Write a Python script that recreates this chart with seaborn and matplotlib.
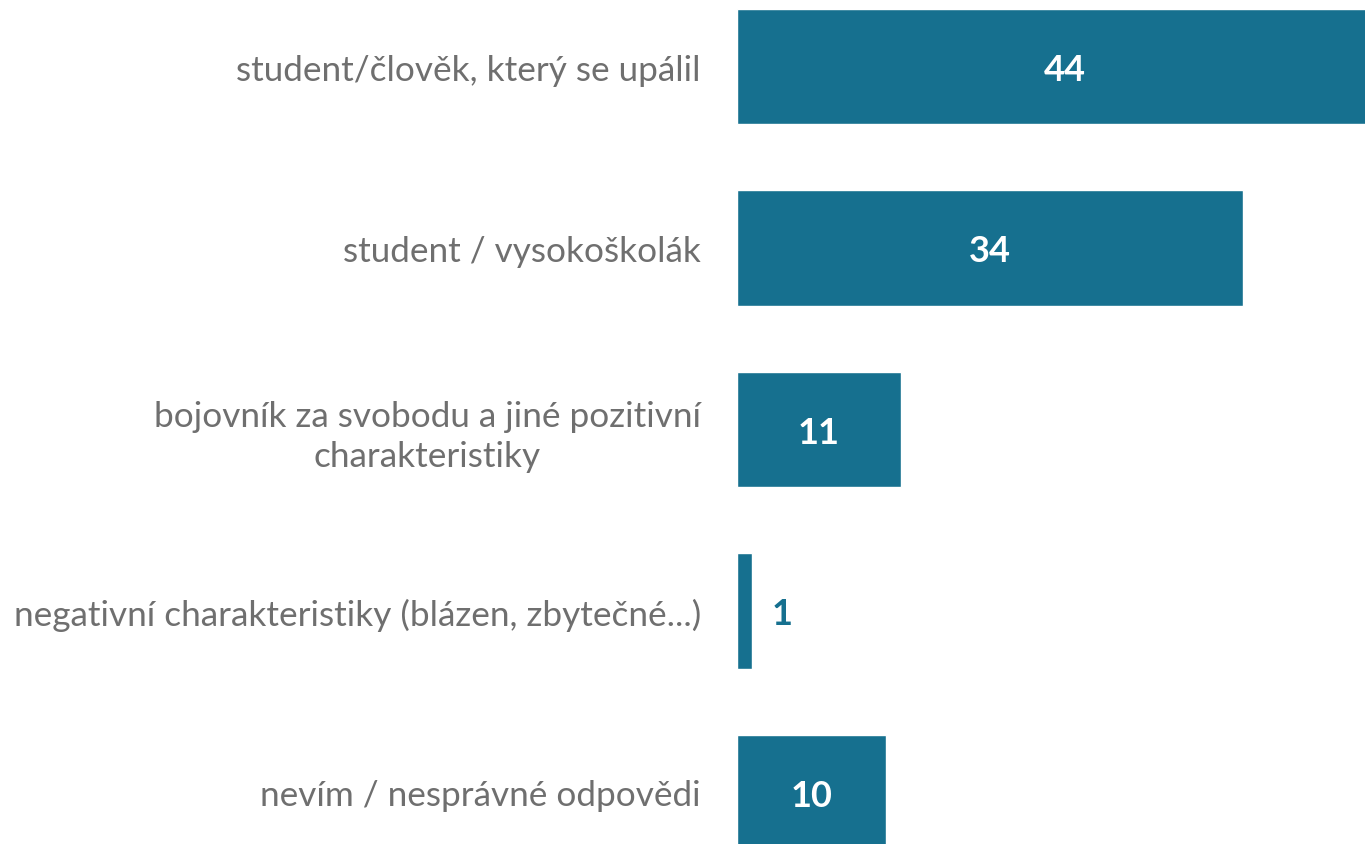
import numpy as np
import pandas as pd
import seaborn as sns
import matplotlib
matplotlib.use("Agg")
import matplotlib.pyplot as plt

categories = [
    "student/člověk, který se upálil",
    "student / vysokoškolák",
    "bojovník za svobodu a jiné pozitivní\ncharakteristiky",
    "negativní charakteristiky (blázen, zbytečné...)",
    "nevím / nesprávné odpovědi",
]
values = [44, 34, 11, 1, 10]

bar_color = "#16708F"
label_color = "#6F6F6F"

sns.set_style("white")
plt.rcParams['font.family'] = ['Lato', 'DejaVu Sans']

df = pd.DataFrame({"category": categories, "value": values})

fig = plt.figure(figsize=(13.65, 8.45), dpi=100)
ax = fig.add_axes([737 / 1365, 0, 1 - 737 / 1365, 1])

sns.barplot(data=df, x="value", y="category", color=bar_color,
            saturation=1, width=0.634, ax=ax)

ax.set_xlim(0, 42.2)
ax.set_ylim(4.284, -0.372)
sns.despine(ax=ax, left=True, bottom=True)
ax.set_xticks([])
ax.set_xlabel("")
ax.set_ylabel("")
ax.tick_params(axis="y", length=0, pad=26, labelsize=25.3, labelcolor=label_color)
for lab in ax.get_yticklabels():
    lab.set_multialignment("center")
    lab.set_linespacing(1.3)

# value labels: inside in white, outside for tiny bars
for i, v in enumerate(values):
    if v >= 5:
        ax.text(v / 2, i, str(v), ha="center", va="center_baseline", color="white",
                fontsize=26, fontweight="bold")
    else:
        ax.text(v + 2.0, i, str(v), ha="center", va="center_baseline", color=bar_color,
                fontsize=26, fontweight="bold")

fig.savefig("out.png", dpi=100)
